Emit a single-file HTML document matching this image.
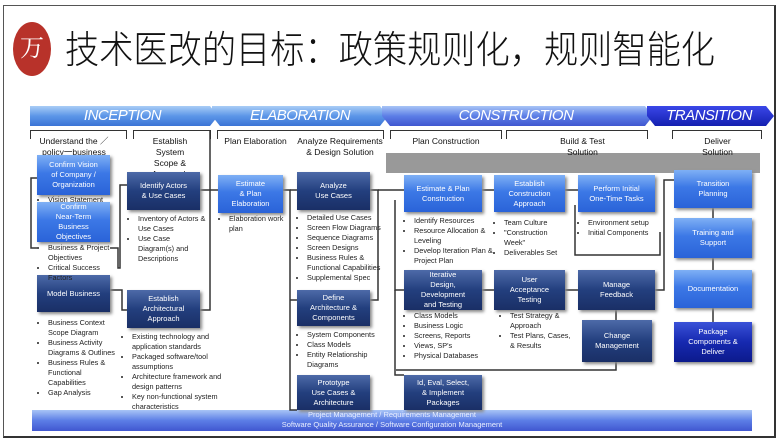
<!DOCTYPE html>
<html><head><meta charset="utf-8"><style>
body{margin:0;width:780px;height:441px;background:#fff;position:relative;overflow:hidden;font-family:"Liberation Sans","Noto Sans CJK SC",sans-serif}
.a{position:absolute}
.frame{left:3px;top:5px;width:770px;height:430px;border:1px solid #555;border-right:2px solid #333;border-bottom:2px solid #333}
.ph{top:106px;height:20px;color:#fff;font-style:italic;font-size:15px;line-height:20px;text-align:center;letter-spacing:-0.5px}
.b{font-size:7.5px;color:#fff;text-align:center;display:flex;align-items:center;justify-content:center;line-height:10px;box-shadow:2px 2px 3px #888}
.l{background:linear-gradient(#7fb0f5,#3c78e6 45%,#2a63d8);}
.d{background:linear-gradient(#4d6aa8,#233f7e 50%,#1a2f66);}
.db{background:linear-gradient(#3a52d8,#1629b0 50%,#0c1a8c);}
.t{font-size:7.3px;color:#222;line-height:10px}
.t ul{margin:0;padding-left:10px}
.h{font-size:8.5px;color:#111;text-align:center;line-height:11px}
.br{height:8px;border:1px solid #333;border-bottom:none}
</style></head><body>
<div class="a frame"></div>
<div class="a" style="left:13px;top:22px;width:38px;height:54px;border-radius:50%;background:#b8322a"></div>
<div class="a" style="left:20px;top:28px;color:#fff;font-size:24px;font-family:'Noto Serif CJK SC',serif">万</div>
<svg class="a" style="left:0;top:0" width="780" height="90"><text x="65" y="63" textLength="650" lengthAdjust="spacingAndGlyphs" font-family="Noto Sans CJK SC, sans-serif" font-weight="300" font-size="38" fill="#111">技术医改的目标：政策规则化，规则智能化</text></svg>

<svg class="a" style="left:0;top:0" width="780" height="441">
<defs><linearGradient id="g1" x1="0" y1="0" x2="0" y2="1"><stop offset="0" stop-color="#a9cdf6"/><stop offset=".5" stop-color="#5c96e8"/><stop offset="1" stop-color="#3b74d6"/></linearGradient>
<linearGradient id="g2" x1="0" y1="0" x2="0" y2="1"><stop offset="0" stop-color="#3a47e8"/><stop offset="1" stop-color="#1420b0"/></linearGradient>
<linearGradient id="g3" x1="0" y1="0" x2="0" y2="1"><stop offset="0" stop-color="#a8c4f6"/><stop offset=".5" stop-color="#5c7ee6"/><stop offset="1" stop-color="#4057d0"/></linearGradient></defs>
<polygon points="30,106 210,106 218,116 210,126 30,126" fill="url(#g1)"/>
<polygon points="212,106 380,106 388,116 380,126 220,126 212,116" fill="url(#g1)"/>
<polygon points="382,106 645,106 653,116 645,126 390,126 382,116" fill="url(#g3)"/>
<polygon points="647,106 766,106 774,116 766,126 655,126 647,116" fill="url(#g2)"/>
<rect x="386" y="153" width="374" height="20" fill="#999"/>
<rect x="32" y="410" width="720" height="21" fill="url(#g3)"/>
<g stroke="#333" stroke-width="1.5" fill="none">
<path d="M37 178H31V248H37"/><path d="M110 248H118V268H120V185H127"/><path d="M110 290H122V310H127"/>
<path d="M200 190H218"/><path d="M200 310H210V130"/><path d="M283 190H290V410H297"/><path d="M290 190H297"/><path d="M290 300H297"/>
<path d="M370 190H378V300H370"/><path d="M378 190H404"/><path d="M482 190H494"/><path d="M565 190H578"/>
<path d="M395 200V290H404"/><path d="M482 290H494"/><path d="M565 290H578"/><path d="M616 310V320"/>
<path d="M395 290V375H404"/><path d="M396 370H616V362"/><path d="M655 290H664V180H674"/>
<path d="M713 208V218"/><path d="M713 258V270"/><path d="M713 308V322"/>
<path d="M575 205V255H660V232"/>
</g>
</svg>
<div class="a ph" style="left:30px;width:185px">INCEPTION</div>
<div class="a ph" style="left:215px;width:170px">ELABORATION</div>
<div class="a ph" style="left:385px;width:262px">CONSTRUCTION</div>
<div class="a ph" style="left:648px;width:122px">TRANSITION</div>

<div class="a br" style="left:30px;top:130px;width:95px"></div>
<div class="a br" style="left:133px;top:130px;width:76px"></div>
<div class="a br" style="left:217px;top:130px;width:165px"></div>
<div class="a br" style="left:390px;top:130px;width:110px"></div>
<div class="a br" style="left:506px;top:130px;width:140px"></div>
<div class="a br" style="left:672px;top:130px;width:88px"></div>
<div class="a h" style="left:34px;top:136px;width:80px">Understand the ／<br>policy一business</div>
<div class="a h" style="left:130px;top:136px;width:80px">Establish<br>System<br>Scope &amp;<br>Approach</div>
<div class="a h" style="left:218px;top:136px;width:75px">Plan Elaboration</div>
<div class="a h" style="left:290px;top:136px;width:100px">Analyze Requirements<br>&amp; Design Solution</div>
<div class="a h" style="left:396px;top:136px;width:100px">Plan Construction</div>
<div class="a h" style="left:530px;top:136px;width:105px">Build &amp; Test<br>Solution</div>
<div class="a h" style="left:680px;top:136px;width:75px">Deliver<br>Solution</div>

<div class="a b l" style="left:37px;top:155px;width:73px;height:40px">Confirm Vision<br>of Company /<br>Organization</div>
<div class="a b l" style="left:37px;top:202px;width:73px;height:40px">Confirm<br>Near-Term<br>Business<br>Objectives</div>
<div class="a b d" style="left:37px;top:275px;width:73px;height:37px">Model Business</div>
<div class="a b d" style="left:127px;top:172px;width:73px;height:38px">Identify Actors<br>&amp; Use Cases</div>
<div class="a b d" style="left:127px;top:290px;width:73px;height:38px">Establish<br>Architectural<br>Approach</div>
<div class="a b l" style="left:218px;top:175px;width:65px;height:38px">Estimate<br>&amp; Plan<br>Elaboration</div>
<div class="a b d" style="left:297px;top:172px;width:73px;height:38px">Analyze<br>Use Cases</div>
<div class="a b d" style="left:297px;top:290px;width:73px;height:36px">Define<br>Architecture &amp;<br>Components</div>
<div class="a b d" style="left:297px;top:375px;width:73px;height:35px">Prototype<br>Use Cases &amp;<br>Architecture</div>
<div class="a b l" style="left:404px;top:175px;width:78px;height:37px">Estimate &amp; Plan<br>Construction</div>
<div class="a b l" style="left:494px;top:175px;width:71px;height:37px">Establish<br>Construction<br>Approach</div>
<div class="a b l" style="left:578px;top:175px;width:77px;height:37px">Perform Initial<br>One-Time Tasks</div>
<div class="a b d" style="left:404px;top:270px;width:78px;height:40px">Iterative<br>Design,<br>Development<br>and Testing</div>
<div class="a b d" style="left:494px;top:270px;width:71px;height:40px">User<br>Acceptance<br>Testing</div>
<div class="a b d" style="left:578px;top:270px;width:77px;height:40px">Manage<br>Feedback</div>
<div class="a b d" style="left:582px;top:320px;width:70px;height:42px">Change<br>Management</div>
<div class="a b d" style="left:404px;top:375px;width:78px;height:35px">Id, Eval, Select,<br>&amp; Implement<br>Packages</div>
<div class="a b l" style="left:674px;top:170px;width:78px;height:38px">Transition<br>Planning</div>
<div class="a b l" style="left:674px;top:218px;width:78px;height:40px">Training and<br>Support</div>
<div class="a b l" style="left:674px;top:270px;width:78px;height:38px">Documentation</div>
<div class="a b db" style="left:674px;top:322px;width:78px;height:40px">Package<br>Components &amp;<br>Deliver</div>

<div class="a t" style="left:38px;top:195px;width:80px"><ul><li>Vision Statement</li></ul></div>
<div class="a t" style="left:38px;top:243px;width:80px"><ul><li>Business &amp; Project Objectives</li><li>Critical Success Factors</li></ul></div>
<div class="a t" style="left:38px;top:318px;width:80px"><ul><li>Business Context Scope Diagram</li><li>Business Activity Diagrams &amp; Outlines</li><li>Business Rules &amp; Functional Capabilities</li><li>Gap Analysis</li></ul></div>
<div class="a t" style="left:128px;top:214px;width:80px"><ul><li>Inventory of Actors &amp; Use Cases</li><li>Use Case Diagram(s) and Descriptions</li></ul></div>
<div class="a t" style="left:122px;top:332px;width:120px"><ul><li>Existing technology and application standards</li><li>Packaged software/tool assumptions</li><li>Architecture framework and design patterns</li><li>Key non-functional system characteristics</li></ul></div>
<div class="a t" style="left:219px;top:214px;width:70px"><ul><li>Elaboration work plan</li></ul></div>
<div class="a t" style="left:297px;top:213px;width:95px"><ul><li>Detailed Use Cases</li><li>Screen Flow Diagrams</li><li>Sequence Diagrams</li><li>Screen Designs</li><li>Business Rules &amp; Functional Capabilities</li><li>Supplemental Spec</li></ul></div>
<div class="a t" style="left:297px;top:330px;width:90px"><ul><li>System Components</li><li>Class Models</li><li>Entity Relationship Diagrams</li></ul></div>
<div class="a t" style="left:404px;top:216px;width:90px"><ul><li>Identify Resources</li><li>Resource Allocation &amp; Leveling</li><li>Develop Iteration Plan &amp; Project Plan</li></ul></div>
<div class="a t" style="left:494px;top:218px;width:75px"><ul><li>Team Culture</li><li>"Construction Week"</li><li>Deliverables Set</li></ul></div>
<div class="a t" style="left:578px;top:218px;width:75px"><ul><li>Environment setup</li><li>Initial Components</li></ul></div>
<div class="a t" style="left:404px;top:311px;width:90px"><ul><li>Class Models</li><li>Business Logic</li><li>Screens, Reports</li><li>Views, SP's</li><li>Physical Databases</li></ul></div>
<div class="a t" style="left:500px;top:311px;width:75px"><ul><li>Test Strategy &amp; Approach</li><li>Test Plans, Cases, &amp; Results</li></ul></div>
<div class="a" style="left:32px;top:410px;width:720px;text-align:center;color:#e8eeff;font-size:7.5px;line-height:10px">Project Management / Requirements Management<br>Software Quality Assurance / Software Configuration Management</div>
</body></html>
